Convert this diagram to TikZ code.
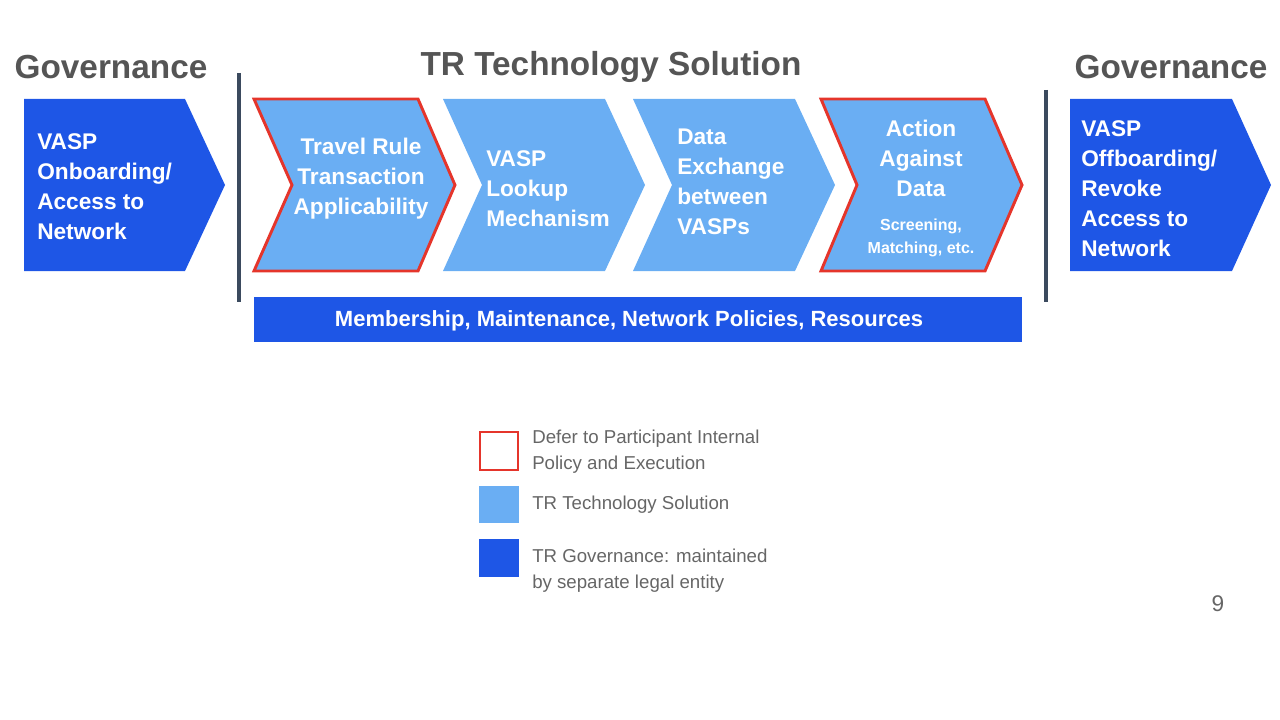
\documentclass[tikz,border=0pt]{standalone}
\usepackage{fontspec}
\setmainfont{Liberation Sans}
\definecolor{lb}{HTML}{6AAEF3}
\definecolor{db}{HTML}{1E56E6}
\definecolor{rd}{HTML}{E5352B}
\definecolor{gt}{HTML}{555555}
\definecolor{lg}{HTML}{666666}
\definecolor{sl}{HTML}{3B4A5E}
\begin{document}
\begin{tikzpicture}[x=0.75pt,y=-0.75pt,
  wt/.style={text=white,font=\bfseries\fontsize{17}{22.5}\selectfont,align=left,inner sep=0pt},
  wc/.style={text=white,font=\bfseries\fontsize{17}{22.5}\selectfont,align=center},
  ttl/.style={text=gt,font=\bfseries\fontsize{25}{30}\selectfont},
  lgt/.style={text=lg,font=\fontsize{14}{19.5}\selectfont,align=left,anchor=west,inner sep=0pt},
  sep/.style={draw=sl,line width=2.6pt}]
\useasboundingbox (0,0) rectangle (1280,720);
% titles
\node[ttl] (g1) at (111,67) {Governance};
\node[ttl] (ts) at (611,67) {TR Technology Solution};
\node[ttl] (g2) at (1171,67) {Governance};
% separators
\coordinate (s1a) at (239,73); \coordinate (s1b) at (239,302);
\coordinate (s2a) at (1046,90); \coordinate (s2b) at (1046,302);
\draw[sep] (s1a) -- (s1b);
\draw[sep] (s2a) -- (s2b);
% left governance
\fill[db] (24,99) -- (185,99) -- (225,185) -- (185,271) -- (24,271) -- cycle;
\node[wt,anchor=west] (n0) at (37,187) {VASP\\Onboarding/\\Access to\\Network};
% chevrons
\fill[lb] (443,99) -- (605,99) -- (645,185) -- (605,271) -- (443,271) -- (482,185) -- cycle;
\fill[lb] (633,99) -- (795,99) -- (835,185) -- (795,271) -- (633,271) -- (672,185) -- cycle;
\filldraw[fill=lb,draw=rd,line width=2.2pt] (254,99) -- (418,99) -- (455,185) -- (418,271) -- (254,271) -- (292,185) -- cycle;
\filldraw[fill=lb,draw=rd,line width=2.2pt] (821,99) -- (985,99) -- (1022,185) -- (985,271) -- (821,271) -- (857,185) -- cycle;
\node[wc] (n1) at (361,179) {Travel Rule\\Transaction\\Applicability};
\node[wt,anchor=west] (n2) at (486,189) {VASP\\Lookup\\Mechanism};
\node[wt,anchor=west] (n3) at (677,182) {Data\\Exchange\\between\\VASPs};
\node[wc] (n4) at (921,158) {Action\\Against\\Data};
\node[text=white,font=\bfseries\fontsize{12}{17}\selectfont,align=center] (n4b) at (921,238) {Screening,\\Matching, etc.};
% right governance
\fill[db] (1070,99) -- (1232,99) -- (1271,185) -- (1232,271) -- (1070,271) -- cycle;
\node[wt,anchor=west] (n5) at (1081,189) {VASP\\Offboarding/\\Revoke\\Access to\\Network};
% bar
\fill[db] (254,297) rectangle (1022,342);
\node[text=white,font=\bfseries\fontsize{16.5}{20}\selectfont] (bar) at (629,321) {Membership, Maintenance, Network Policies, Resources};
% legend
\draw[rd,line width=2pt] (480,432) rectangle (518,470);
\fill[lb] (479,486) rectangle (519,523);
\fill[db] (479,539) rectangle (519,577);
\node[lgt] (l1) at (532,452) {Defer to Participant Internal\\Policy and Execution};
\node[lgt] (l2) at (532,505) {TR Technology Solution};
\node[lgt] (l3) at (532,571) {TR Governance: maintained\\by separate legal entity};
\node[text=lg,font=\fontsize{17}{20}\selectfont] (pg) at (1218,604) {9};
\end{tikzpicture}
\end{document}
